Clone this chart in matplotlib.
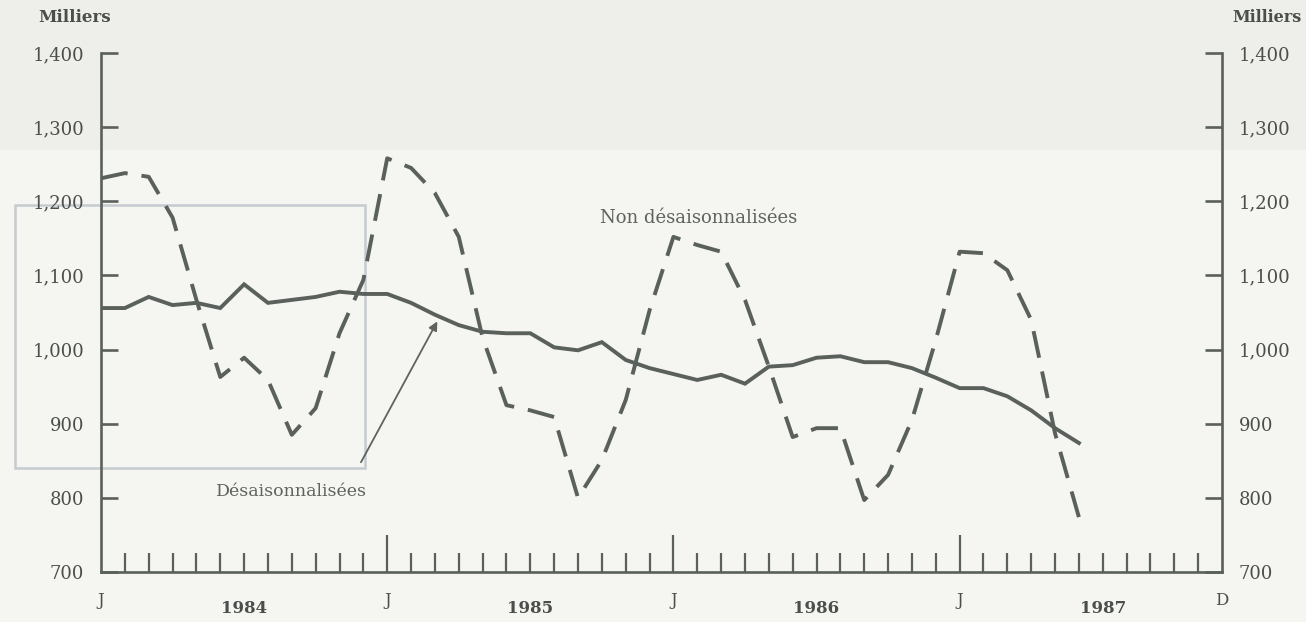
import matplotlib
matplotlib.use('Agg')
import matplotlib.pyplot as plt
import matplotlib.patches as mpatches
import numpy as np

# Monthly values, Jan 1984 .. Jun 1987 (thousands)
mois = np.arange(42)
non_desaisonnalisees = [1231, 1238, 1233, 1178, 1067, 963, 989, 959, 885, 921, 1022, 1094,
                        1258, 1245, 1211, 1152, 1016, 925, 918, 909, 800, 851, 932, 1053,
                        1152, 1141, 1132, 1067, 977, 882, 894, 894, 797, 831, 905, 1013,
                        1132, 1130, 1107, 1040, 887, 774]
desaisonnalisees = [1056, 1056, 1071, 1060, 1063, 1056, 1088, 1063, 1067, 1071, 1078, 1075,
                    1075, 1063, 1047, 1033, 1024, 1022, 1022, 1003, 999, 1010, 986, 975,
                    967, 959, 966, 954, 977, 979, 989, 991, 983, 983, 975, 962,
                    948, 948, 937, 918, 894, 874]

y_ticks = [700, 800, 900, 1000, 1100, 1200, 1300, 1400]
y_labels = ['700', '800', '900', '1,000', '1,100', '1,200', '1,300', '1,400']
mois_labels = [(0, 'J'), (12, 'J'), (24, 'J'), (36, 'J'), (47, 'D')]
annees = [(6, '1984'), (18, '1985'), (30, '1986'), (42, '1987')]

ENCRE = '#5a605b'
TEXTE = '#4a4f4b'
plt.rcParams['font.family'] = 'DejaVu Serif'

fig = plt.figure(figsize=(13.06, 6.22), dpi=100)
fig.patch.set_facecolor('#f5f5f2')

# page background: greyish band on top and a faint stamp frame
fond = fig.add_axes([0, 0, 1, 1], zorder=0)
fond.set_xlim(0, 1306)
fond.set_ylim(622, 0)
fond.axis('off')
fond.add_patch(mpatches.Rectangle((0, 0), 1306, 150, facecolor='#eeeeeb', edgecolor='none'))
fond.add_patch(mpatches.Rectangle((15, 205), 350, 263, facecolor='none',
                                  edgecolor='#c6cbd0', lw=1.8))

ax = fig.add_axes([101 / 1306, 50 / 622, (1222 - 101) / 1306, (572 - 53) / 622], zorder=2)
ax.set_facecolor('none')
ax.set_xlim(0, 47)
ax.set_ylim(700, 1400)

ax.plot(mois, desaisonnalisees, color=ENCRE, lw=2.8, solid_joinstyle='miter', zorder=3)
ax.plot(mois, non_desaisonnalisees, color=ENCRE, lw=2.8, linestyle=(0, (7, 3.6)),
        dash_capstyle='butt', zorder=3)

ax.spines['top'].set_visible(False)
for side in ['left', 'right', 'bottom']:
    ax.spines[side].set_color(ENCRE)
    ax.spines[side].set_linewidth(1.9)

ax.set_yticks(y_ticks)
ax.set_yticklabels(y_labels)
ax.tick_params(axis='y', which='both', direction='in', length=12, width=1.9, color=ENCRE,
               left=True, right=True, labelleft=True, labelright=True,
               labelsize=13, labelcolor=TEXTE, pad=12)

ax.set_xticks([12, 24, 36])
ax.set_xticks([m for m in range(1, 47) if m % 12 != 0], minor=True)
ax.tick_params(axis='x', which='major', direction='in', length=27, width=1.6, color=ENCRE,
               labelbottom=False)
ax.tick_params(axis='x', which='minor', direction='in', length=13.5, width=1.6, color=ENCRE)

for m, lab in mois_labels:
    ax.text(m, -0.055, lab, transform=ax.get_xaxis_transform(), ha='center', va='center',
            fontsize=12, color=TEXTE)
for m, lab in annees:
    ax.text(m, -0.07, lab, transform=ax.get_xaxis_transform(), ha='center', va='center',
            fontsize=12, fontweight='bold', color=TEXTE)

fig.text(75 / 1306, 1 - 18 / 622, 'Milliers', ha='center', va='center',
         fontsize=12, fontweight='bold', color=TEXTE)
fig.text(1267 / 1306, 1 - 18 / 622, 'Milliers', ha='center', va='center',
         fontsize=11.5, fontweight='bold', color=TEXTE)

ax.text(25.05, 1177, 'Non désaisonnalisées', ha='center', va='center',
        fontsize=13, color='#5e635e')
ax.text(7.97, 809, 'Désaisonnalisées', ha='center', va='center',
        fontsize=12.5, color='#5e635e')
ax.annotate('', xy=(14.1, 1038), xytext=(10.9, 848),
            arrowprops=dict(arrowstyle='-|>', color='#5e635e', lw=1.3, mutation_scale=13,
                            shrinkA=0, shrinkB=0))

fig.savefig('out.png', dpi=100, facecolor=fig.get_facecolor())
